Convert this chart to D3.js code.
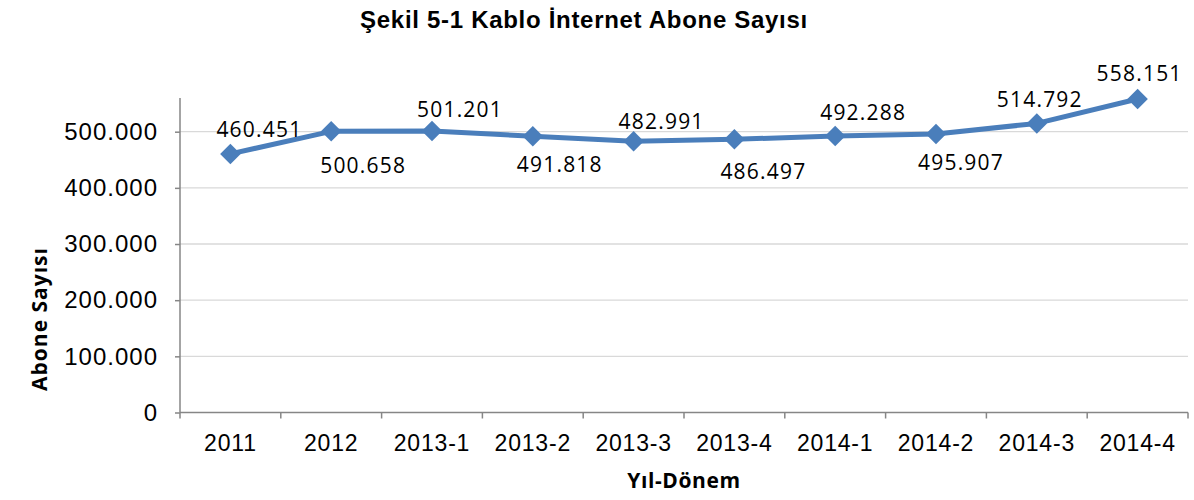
<!DOCTYPE html>
<html>
<head>
<meta charset="utf-8">
<script src="https://cdn.jsdelivr.net/npm/d3@7"></script>
<style>
  html, body { margin: 0; padding: 0; background: #fff; }
  svg { display: block; }
</style>
</head>
<body>
<svg id="chart" width="1194" height="500"></svg>
<script>
// Kablo internet abone sayısı, yıl / dönem bazında
const categories = ["2011", "2012", "2013-1", "2013-2", "2013-3", "2013-4", "2014-1", "2014-2", "2014-3", "2014-4"];
const subscribers = [460451, 500658, 501201, 491818, 482991, 486497, 492288, 495907, 514792, 558151];
const yTicks = [0, 100000, 200000, 300000, 400000, 500000];

// Data label nudges (dx, dy) from each marker, in pixels
const labelDx = [29, 32, 28, 27, 28, 29, 28, 25, 3, 2];
const labelDy = [-24, 34, -22, 28, -20, 32, -24, 28, -24, -26];

const fmt = v => d3.format(",")(v).replace(/,/g, ".");

const svg = d3.select("#chart");
const margin = { left: 180, right: 6, top: 98, bottom: 87.5 };
const W = 1194, H = 500;
const lineColor = "#4a7ebb";

const x = d3.scaleBand().domain(categories).range([margin.left, W - margin.right]).paddingInner(0).paddingOuter(0);
const y = d3.scaleLinear().domain([0, 560000]).range([H - margin.bottom, margin.top]);

// Gridlines
svg.append("g")
  .selectAll("line")
  .data(yTicks.filter(t => t > 0))
  .join("line")
  .attr("x1", margin.left).attr("x2", W - margin.right)
  .attr("y1", d => y(d)).attr("y2", d => y(d))
  .attr("stroke", "#d9d9d9").attr("stroke-width", 1.3);

// Y axis
const yAxis = svg.append("g")
  .attr("transform", `translate(${margin.left},0)`)
  .call(d3.axisLeft(y).tickValues(yTicks).tickFormat(d => d === 0 ? "0" : fmt(d)).tickSize(5).tickPadding(17));
yAxis.select(".domain").attr("stroke", "#868686").attr("stroke-width", 1.5).attr("d", `M0,${y(0)}V${margin.top}`);
yAxis.selectAll(".tick line").attr("stroke", "#868686").attr("stroke-width", 1.5);
yAxis.selectAll(".tick text")
  .attr("font-family", "'Liberation Sans', Arial, sans-serif")
  .attr("font-size", 24).attr("letter-spacing", "1px").attr("fill", "#000");

// X axis with boundary ticks
const xAxisG = svg.append("g").attr("transform", `translate(0,${y(0)})`);
xAxisG.append("line")
  .attr("x1", margin.left).attr("x2", W - margin.right)
  .attr("stroke", "#868686").attr("stroke-width", 1.5);
const bounds = categories.map(c => x(c)).concat([x(categories[categories.length - 1]) + x.bandwidth()]);
xAxisG.selectAll("line.tk")
  .data(bounds)
  .join("line").attr("class", "tk")
  .attr("x1", d => d).attr("x2", d => d)
  .attr("y1", 0).attr("y2", 6)
  .attr("stroke", "#868686").attr("stroke-width", 1.5);
xAxisG.selectAll("text")
  .data(categories)
  .join("text")
  .attr("x", d => x(d) + x.bandwidth() / 2)
  .attr("y", 38)
  .attr("text-anchor", "middle")
  .attr("font-family", "'Liberation Sans', Arial, sans-serif")
  .attr("font-size", 23).attr("letter-spacing", "0.8px")
  .text(d => d);

// Line series
const pts = categories.map((c, i) => ({ c, v: subscribers[i], i }));
svg.append("path")
  .datum(pts)
  .attr("fill", "none")
  .attr("stroke", lineColor)
  .attr("stroke-width", 5)
  .attr("stroke-linejoin", "round")
  .attr("d", d3.line().x(d => x(d.c) + x.bandwidth() / 2).y(d => y(d.v)));

// Diamond markers
const diamond = d3.symbol().type(d3.symbolSquare).size(210);
svg.append("g")
  .selectAll("path")
  .data(pts)
  .join("path")
  .attr("d", diamond)
  .attr("transform", d => `translate(${x(d.c) + x.bandwidth() / 2},${y(d.v)}) rotate(45)`)
  .attr("fill", lineColor);

// Value labels
svg.append("g")
  .selectAll("text")
  .data(pts)
  .join("text")
  .attr("x", d => x(d.c) + x.bandwidth() / 2 + labelDx[d.i])
  .attr("y", d => y(d.v) + labelDy[d.i])
  .attr("dy", "0.36em")
  .attr("text-anchor", "middle")
  .attr("font-family", "'Open Sans', 'Noto Sans', sans-serif")
  .attr("font-size", 21).attr("letter-spacing", "1.2px")
  .attr("fill", "#000")
  .text(d => fmt(d.v));

// Title
svg.append("text")
  .attr("x", 584).attr("y", 28)
  .attr("text-anchor", "middle")
  .attr("font-family", "'Liberation Sans', Arial, sans-serif")
  .attr("font-weight", "bold").attr("font-size", 24).attr("letter-spacing", "0.7px")
  .text("Şekil 5-1 Kablo İnternet Abone Sayısı");

// Axis titles
svg.append("text")
  .attr("x", (margin.left + W - margin.right) / 2).attr("y", 488)
  .attr("text-anchor", "middle")
  .attr("font-family", "'Open Sans', 'Noto Sans', sans-serif")
  .attr("font-weight", "bold").attr("font-size", 21).attr("letter-spacing", "0.6px")
  .text("Yıl-Dönem");

svg.append("text")
  .attr("transform", "translate(47,319) rotate(-90)")
  .attr("text-anchor", "middle")
  .attr("font-family", "'Open Sans', 'Noto Sans', sans-serif")
  .attr("font-weight", "bold").attr("font-size", 21).attr("letter-spacing", "1px")
  .text("Abone Sayısı");
</script>
</body>
</html>
